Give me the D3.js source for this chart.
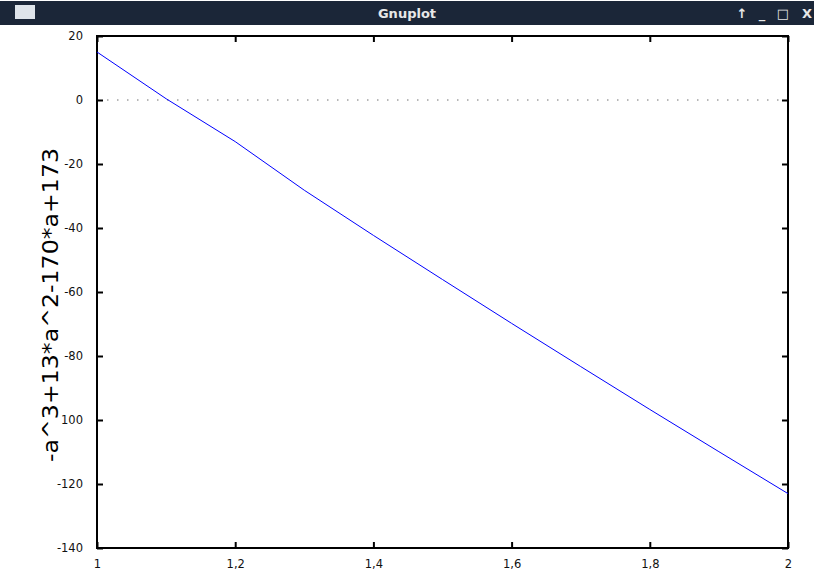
<!DOCTYPE html>
<html lang="en">
<head>
    <meta charset="UTF-8">
    <title>Gnuplot</title>
    <script src="https://d3js.org/d3.v7.min.js"></script>
    <style>
        body { margin: 0; background: #fff; }
        .tick text { font-family: "DejaVu Sans", sans-serif; font-size: 11.5px; fill: #111; }
    </style>
</head>
<body>
    <svg id="chart" width="814" height="576"></svg>
    <script>
        // values (a, f(a))
        let a_values = [1.0, 1.1, 1.2, 1.3, 1.4, 1.5, 1.6, 1.7, 1.8, 1.9, 2.0]
        let f_values = [15, 0.4, -13, -28.2, -42.3, -56.1, -69.8, -83.3, -96.7, -109.9, -123]
        let x_ticks = [1, 1.2, 1.4, 1.6, 1.8, 2]
        let x_tick_labels = ["1", "1,2", "1,4", "1,6", "1,8", "2"]
        let y_ticks = [20, 0, -20, -40, -60, -80, -100, -120, -140]
        let y_tick_labels = ["20", "0", "-20", "-40", "-60", "-80", "100", "-120", "-140"]
        let y_title = "-a^3+13*a^2-170*a+173"

        let svg = d3.select("#chart")
        let plot_left = 97, plot_right = 788, plot_top = 36, plot_bottom = 548

        // window title bar
        svg.append("rect").attr("x", 0).attr("y", 1).attr("width", 814).attr("height", 24).attr("fill", "#1b2638")
        svg.append("rect").attr("x", 15).attr("y", 5).attr("width", 20).attr("height", 14).attr("fill", "#dfe4ea")
        svg.append("text").attr("x", 407).attr("y", 18).attr("text-anchor", "middle")
            .attr("font-family", "DejaVu Sans, sans-serif").attr("font-weight", "bold").attr("font-size", 13)
            .attr("fill", "#e8e8e8").text("Gnuplot")
        let buttons = [["\u2191", 742], ["_", 762], ["\u25a1", 783], ["X", 807]]
        svg.selectAll(".btn").data(buttons).enter().append("text")
            .attr("class", "btn")
            .attr("x", d => d[1]).attr("y", 18).attr("text-anchor", "middle")
            .attr("font-family", "DejaVu Sans, sans-serif").attr("font-weight", "bold").attr("font-size", 13)
            .attr("fill", "#e8e8e8").text(d => d[0])

        let xScale = d3.scaleLinear().domain([1, 2]).range([plot_left, plot_right])
        let yScale = d3.scaleLinear().domain([-140, 20]).range([plot_bottom, plot_top])

        // zero line
        svg.append("line")
            .attr("x1", plot_left).attr("x2", plot_right)
            .attr("y1", yScale(0)).attr("y2", yScale(0))
            .attr("stroke", "#a0a0a0").attr("stroke-width", 1.5).attr("stroke-dasharray", "1.5,8.5")

        // axes with gnuplot-style inward ticks
        let x_axis = d3.axisBottom(xScale).tickValues(x_ticks).tickSize(-6).tickPadding(12)
            .tickFormat((d, i) => x_tick_labels[i])
        let y_axis = d3.axisLeft(yScale).tickValues(y_ticks).tickSize(-6).tickPadding(14)
            .tickFormat((d, i) => y_tick_labels[i])
        svg.append("g").attr("transform", `translate(0,${plot_bottom})`).call(x_axis)
        svg.append("g").attr("transform", `translate(${plot_left},0)`).call(y_axis)
        svg.append("g").attr("transform", `translate(0,${plot_top})`)
            .call(d3.axisTop(xScale).tickValues(x_ticks).tickSize(-6).tickFormat(""))
        svg.append("g").attr("transform", `translate(${plot_right},0)`)
            .call(d3.axisRight(yScale).tickValues(y_ticks).tickSize(-6).tickFormat(""))
        svg.selectAll(".domain").remove()
        svg.selectAll(".tick line").attr("stroke", "#000").attr("stroke-width", 2)

        // border
        svg.append("rect").attr("x", plot_left).attr("y", plot_top)
            .attr("width", plot_right - plot_left).attr("height", plot_bottom - plot_top)
            .attr("fill", "none").attr("stroke", "#000").attr("stroke-width", 2)

        // the curve
        let line = d3.line().x((d, i) => xScale(a_values[i])).y(d => yScale(d))
        svg.append("path").attr("d", line(f_values))
            .attr("fill", "none").attr("stroke", "#0000ff").attr("stroke-width", 1)

        // y title
        svg.append("text")
            .attr("transform", `translate(58,305) rotate(-90)`)
            .attr("text-anchor", "middle")
            .attr("font-family", "DejaVu Sans, sans-serif").attr("font-size", 21)
            .attr("textLength", 314).attr("lengthAdjust", "spacingAndGlyphs")
            .attr("fill", "#000").text(y_title)
    </script>
</body>
</html>
